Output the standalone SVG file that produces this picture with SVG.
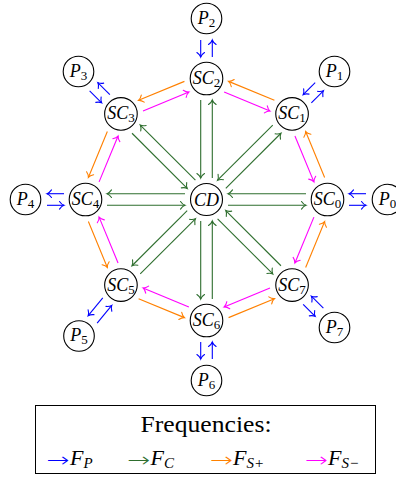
<svg xmlns="http://www.w3.org/2000/svg" width="396" height="477" viewBox="0 0 396 477">
<style>
.node circle{fill:#fff;stroke:#000;stroke-width:1.1}
.lbl{font-family:'Liberation Serif','Times New Roman',serif;font-style:italic;font-size:18px;text-anchor:middle;fill:#000}
.sub{font-style:normal;font-size:13px}
.c line{fill:none;stroke-width:1.1}
.b{stroke:#0000ff;marker-end:url(#ab)}
.g{stroke:#2e6e2e;marker-end:url(#ag)}
.o{stroke:#ff8000;marker-end:url(#ao)}
.m{stroke:#ff00ff;marker-end:url(#am)}
.leg{font-family:'Liberation Serif','Times New Roman',serif;font-size:23px;fill:#000}
.lf{font-family:'Liberation Serif','Times New Roman',serif;font-style:italic;font-size:22px;fill:#000}
.ls{font-style:italic;font-size:15px}
.arr{font-family:'DejaVu Sans',sans-serif;font-weight:200;font-size:20px}
</style>
<defs>
<marker id="ab" markerUnits="userSpaceOnUse" markerWidth="12" markerHeight="12" viewBox="-6 -6 12 12" refX="0" refY="0" orient="auto" overflow="visible"><path d="M-4.5,-3.8 C-3,-1.6 -1.2,-0.4 0,0 C-1.2,0.4 -3,1.6 -4.5,3.8" fill="none" stroke="#0000ff" stroke-width="1.1" stroke-linecap="round"/></marker>
<marker id="ag" markerUnits="userSpaceOnUse" markerWidth="12" markerHeight="12" viewBox="-6 -6 12 12" refX="0" refY="0" orient="auto" overflow="visible"><path d="M-4.5,-3.8 C-3,-1.6 -1.2,-0.4 0,0 C-1.2,0.4 -3,1.6 -4.5,3.8" fill="none" stroke="#2e6e2e" stroke-width="1.1" stroke-linecap="round"/></marker>
<marker id="ao" markerUnits="userSpaceOnUse" markerWidth="12" markerHeight="12" viewBox="-6 -6 12 12" refX="0" refY="0" orient="auto" overflow="visible"><path d="M-4.5,-3.8 C-3,-1.6 -1.2,-0.4 0,0 C-1.2,0.4 -3,1.6 -4.5,3.8" fill="none" stroke="#ff8000" stroke-width="1.1" stroke-linecap="round"/></marker>
<marker id="am" markerUnits="userSpaceOnUse" markerWidth="12" markerHeight="12" viewBox="-6 -6 12 12" refX="0" refY="0" orient="auto" overflow="visible"><path d="M-4.5,-3.8 C-3,-1.6 -1.2,-0.4 0,0 C-1.2,0.4 -3,1.6 -4.5,3.8" fill="none" stroke="#ff00ff" stroke-width="1.1" stroke-linecap="round"/></marker>
</defs>

<g id="connectors" class="c">
<line class="g" x1="228" y1="205.3" x2="306" y2="205.3"/>
<line class="g" x1="306" y1="193.7" x2="228" y2="193.7"/>
<line class="g" x1="225.8" y1="188.4" x2="280.96" y2="133.24"/>
<line class="g" x1="272.76" y1="125.04" x2="217.6" y2="180.2"/>
<line class="g" x1="212.3" y1="178" x2="212.3" y2="100"/>
<line class="g" x1="200.7" y1="100" x2="200.7" y2="178"/>
<line class="g" x1="195.4" y1="180.2" x2="140.24" y2="125.04"/>
<line class="g" x1="132.04" y1="133.24" x2="187.2" y2="188.4"/>
<line class="g" x1="185" y1="193.7" x2="107" y2="193.7"/>
<line class="g" x1="107" y1="205.3" x2="185" y2="205.3"/>
<line class="g" x1="187.2" y1="210.6" x2="132.04" y2="265.76"/>
<line class="g" x1="140.24" y1="273.96" x2="195.4" y2="218.8"/>
<line class="g" x1="200.7" y1="221" x2="200.7" y2="299"/>
<line class="g" x1="212.3" y1="299" x2="212.3" y2="221"/>
<line class="g" x1="217.6" y1="218.8" x2="272.76" y2="273.96"/>
<line class="g" x1="280.96" y1="265.76" x2="225.8" y2="210.6"/>
<line class="b" x1="349" y1="205.3" x2="366" y2="205.3"/>
<line class="b" x1="366" y1="193.7" x2="349" y2="193.7"/>
<line class="b" x1="311.36" y1="102.84" x2="323.38" y2="90.82"/>
<line class="b" x1="315.18" y1="82.62" x2="303.16" y2="94.64"/>
<line class="b" x1="212.3" y1="57" x2="212.3" y2="40"/>
<line class="b" x1="200.7" y1="40" x2="200.7" y2="57"/>
<line class="b" x1="109.84" y1="94.64" x2="97.82" y2="82.62"/>
<line class="b" x1="89.62" y1="90.82" x2="101.64" y2="102.84"/>
<line class="b" x1="64" y1="193.7" x2="47" y2="193.7"/>
<line class="b" x1="47" y1="205.3" x2="64" y2="205.3"/>
<line class="b" x1="102.79" y1="297.97" x2="88.19" y2="315.71"/>
<line class="b" x1="97.15" y1="323.09" x2="111.75" y2="305.35"/>
<line class="b" x1="200.7" y1="342" x2="200.7" y2="359"/>
<line class="b" x1="212.3" y1="359" x2="212.3" y2="342"/>
<line class="b" x1="303.16" y1="304.36" x2="315.18" y2="316.38"/>
<line class="b" x1="323.38" y1="308.18" x2="311.36" y2="296.16"/>
<line class="o" x1="324.63" y1="177.42" x2="305.65" y2="131.58"/>
<line class="m" x1="294.93" y1="136.02" x2="313.91" y2="181.86"/>
<line class="o" x1="274.42" y1="100.35" x2="228.58" y2="81.37"/>
<line class="m" x1="224.14" y1="92.09" x2="269.98" y2="111.07"/>
<line class="o" x1="184.42" y1="81.37" x2="138.58" y2="100.35"/>
<line class="m" x1="143.02" y1="111.07" x2="188.86" y2="92.09"/>
<line class="o" x1="107.35" y1="131.58" x2="88.37" y2="177.42"/>
<line class="m" x1="99.09" y1="181.86" x2="118.07" y2="136.02"/>
<line class="o" x1="88.37" y1="221.58" x2="107.35" y2="267.42"/>
<line class="m" x1="118.07" y1="262.98" x2="99.09" y2="217.14"/>
<line class="o" x1="138.58" y1="298.65" x2="184.42" y2="317.63"/>
<line class="m" x1="188.86" y1="306.91" x2="143.02" y2="287.93"/>
<line class="o" x1="228.58" y1="317.63" x2="274.42" y2="298.65"/>
<line class="m" x1="269.98" y1="287.93" x2="224.14" y2="306.91"/>
<line class="o" x1="305.65" y1="267.42" x2="324.63" y2="221.58"/>
<line class="m" x1="313.91" y1="217.14" x2="294.93" y2="262.98"/>
</g>

<g id="CD" class="node"><circle cx="206.5" cy="199.5" r="16"/><text class="lbl" x="206.5" y="205.5">CD</text></g>
<g id="SC0" class="node"><circle cx="327.5" cy="199.5" r="16.3"/><text class="lbl" x="327.5" y="205">SC<tspan class="sub" dy="3">0</tspan></text></g>
<g id="SC1" class="node"><circle cx="292.06" cy="113.94" r="16.3"/><text class="lbl" x="292.06" y="119.44">SC<tspan class="sub" dy="3">1</tspan></text></g>
<g id="SC2" class="node"><circle cx="206.5" cy="78.5" r="16.3"/><text class="lbl" x="206.5" y="84">SC<tspan class="sub" dy="3">2</tspan></text></g>
<g id="SC3" class="node"><circle cx="120.94" cy="113.94" r="16.3"/><text class="lbl" x="120.94" y="119.44">SC<tspan class="sub" dy="3">3</tspan></text></g>
<g id="SC4" class="node"><circle cx="85.5" cy="199.5" r="16.3"/><text class="lbl" x="85.5" y="205">SC<tspan class="sub" dy="3">4</tspan></text></g>
<g id="SC5" class="node"><circle cx="120.94" cy="285.06" r="16.3"/><text class="lbl" x="120.94" y="290.56">SC<tspan class="sub" dy="3">5</tspan></text></g>
<g id="SC6" class="node"><circle cx="206.5" cy="320.5" r="16.3"/><text class="lbl" x="206.5" y="326">SC<tspan class="sub" dy="3">6</tspan></text></g>
<g id="SC7" class="node"><circle cx="292.06" cy="285.06" r="16.3"/><text class="lbl" x="292.06" y="290.56">SC<tspan class="sub" dy="3">7</tspan></text></g>

<g id="P0" class="node"><circle cx="387.5" cy="199.5" r="15.3"/><text class="lbl" x="387.5" y="204.5">P<tspan class="sub" dy="3">0</tspan></text></g>
<g id="P1" class="node"><circle cx="334.5" cy="71.5" r="15.3"/><text class="lbl" x="334.5" y="76.5">P<tspan class="sub" dy="3">1</tspan></text></g>
<g id="P2" class="node"><circle cx="206.5" cy="18.5" r="15.3"/><text class="lbl" x="206.5" y="23.5">P<tspan class="sub" dy="3">2</tspan></text></g>
<g id="P3" class="node"><circle cx="78.5" cy="71.5" r="15.3"/><text class="lbl" x="78.5" y="76.5">P<tspan class="sub" dy="3">3</tspan></text></g>
<g id="P4" class="node"><circle cx="25.5" cy="199.5" r="15.3"/><text class="lbl" x="25.5" y="204.5">P<tspan class="sub" dy="3">4</tspan></text></g>
<g id="P5" class="node"><circle cx="79" cy="336" r="15.3"/><text class="lbl" x="79" y="341">P<tspan class="sub" dy="3">5</tspan></text></g>
<g id="P6" class="node"><circle cx="206.5" cy="380.5" r="15.3"/><text class="lbl" x="206.5" y="385.5">P<tspan class="sub" dy="3">6</tspan></text></g>
<g id="P7" class="node"><circle cx="334.5" cy="327.5" r="15.3"/><text class="lbl" x="334.5" y="332.5">P<tspan class="sub" dy="3">7</tspan></text></g>

<g id="legend">
<rect x="35.5" y="405.5" width="340" height="68" fill="#fff" stroke="#000" stroke-width="1"/>
<text class="leg" x="206" y="432" text-anchor="middle" textLength="131" lengthAdjust="spacingAndGlyphs">Frequencies:</text>
<text class="arr" x="46.5" y="466.5" fill="#0000ff" textLength="23" lengthAdjust="spacingAndGlyphs">→</text>
<text class="lf" x="70" y="465">F<tspan class="ls" dy="3">P</tspan></text>
<text class="arr" x="127.3" y="466.5" fill="#2e6e2e" textLength="23" lengthAdjust="spacingAndGlyphs">→</text>
<text class="lf" x="150.5" y="465">F<tspan class="ls" dy="3">C</tspan></text>
<text class="arr" x="210" y="466.5" fill="#ff8000" textLength="23" lengthAdjust="spacingAndGlyphs">→</text>
<text class="lf" x="233" y="465">F<tspan class="ls" dy="3">S+</tspan></text>
<text class="arr" x="305" y="466.5" fill="#ff00ff" textLength="23" lengthAdjust="spacingAndGlyphs">→</text>
<text class="lf" x="328" y="465">F<tspan class="ls" dy="3">S−</tspan></text>
</g>
</svg>
